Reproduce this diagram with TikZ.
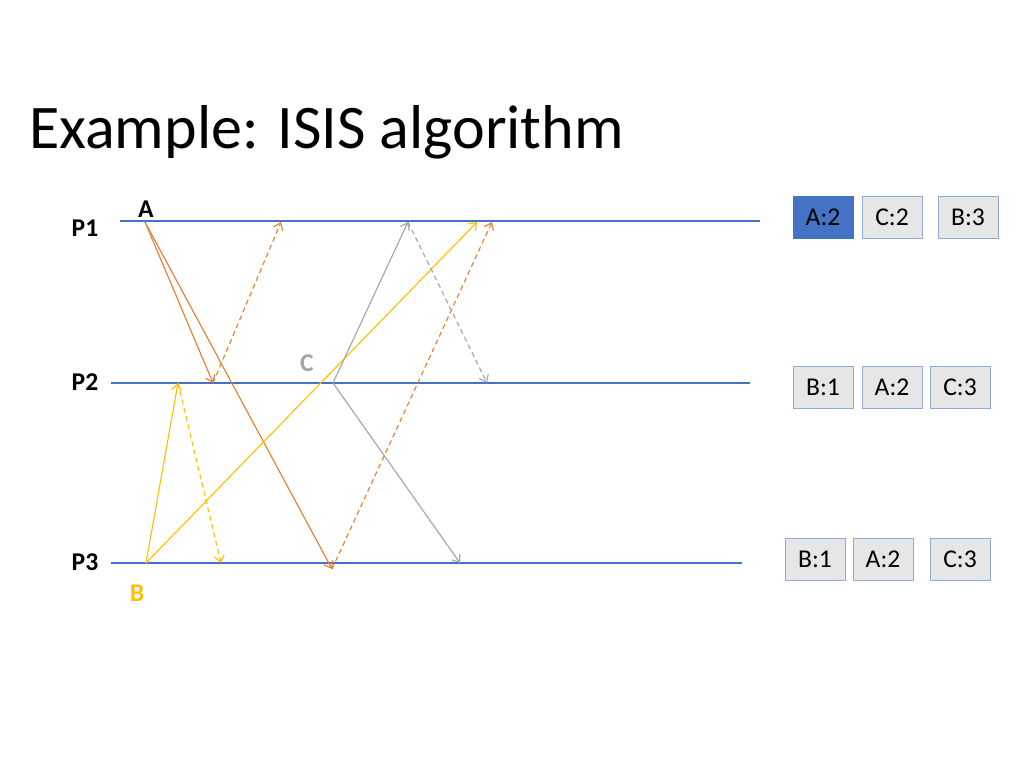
\documentclass[tikz,border=0pt]{standalone}
\usepackage{fontspec}
\setmainfont{Carlito}
\usetikzlibrary{arrows.meta}
\definecolor{procblue}{HTML}{4472C4}
\definecolor{msgorange}{HTML}{ED7D31}
\definecolor{msgyellow}{HTML}{FFC000}
\definecolor{msggray}{HTML}{A5A5A5}
\definecolor{boxfill}{HTML}{E7E6E6}
\definecolor{boxedge}{HTML}{8FAADC}

\begin{document}
\begin{tikzpicture}[x=0.703125pt,y=-0.703125pt,
  proc/.style={procblue,line width=1.5pt},
  msg/.style={line width=0.8pt,-{Straight Barb[length=4.5pt,width=7pt]}},
  ack/.style={msg,dash pattern=on 3.5pt off 2.5pt},
  plabel/.style={font=\fontsize{18}{21}\selectfont\bfseries},
  stamp/.style={draw=boxedge,fill=boxfill,line width=0.6pt,minimum width=42.2pt,minimum height=29.5pt,inner sep=0pt,font=\fontsize{18}{21}\selectfont}]
\fill[white] (0,0) rectangle (1024,768);
\useasboundingbox (0,0) rectangle (1024,768);

\node[anchor=base west,inner sep=0pt,font=\fontsize{43.6}{52}\selectfont] (title) at (29,149) {Example: ISIS algorithm};

% processes
\node[plabel] (p1) at (85,228) {P1};
\node[plabel] (p2) at (85,382) {P2};
\node[plabel] (p3) at (85,562) {P3};
\draw[proc] (120,221) coordinate (p1s) -- (760,221) coordinate (p1e);
\draw[proc] (111,383) coordinate (p2s) -- (750,383) coordinate (p2e);
\draw[proc] (111,563) coordinate (p3s) -- (742,563) coordinate (p3e);

% events
\coordinate (a) at (145,222);
\coordinate (a2) at (213,383);
\coordinate (a3) at (332,569);
\coordinate (pa2) at (281,222);
\coordinate (pa3) at (492,222);
\coordinate (b) at (146,563);
\coordinate (b2) at (178,383);
\coordinate (pb2) at (221,563);
\coordinate (b1) at (477,222);
\coordinate (c) at (333,383);
\coordinate (c1) at (408,222);
\coordinate (c3) at (460,563);
\coordinate (pc1) at (487,383);

\node[plabel] (la) at (146,209) {A};
\node[plabel,msggray] (lc) at (307,363) {C};
\node[plabel,msgyellow] (lb) at (137,593) {B};

% message A
\draw[msg,msgorange] (a) -- (a2);
\draw[msg,msgorange] (a) -- (a3);
\draw[ack,msgorange] (a2) -- (pa2);
\draw[ack,msgorange] (a3) -- (pa3);
% message B
\draw[msg,msgyellow] (b) -- (b2);
\draw[msg,msgyellow] (b) -- (b1);
\draw[ack,msgyellow] (b2) -- (pb2);
% message C
\draw[msg,msggray] (c) -- (c1);
\draw[msg,msggray] (c) -- (c3);
\draw[ack,msggray] (c1) -- (pc1);

% queues
\node[stamp,fill=procblue,draw=procblue] (q1a) at (823,217) {A:2};
\node[stamp] (q1c) at (892,217) {C:2};
\node[stamp] (q1b) at (968,217) {B:3};
\node[stamp] (q2b) at (823,387.5) {B:1};
\node[stamp] (q2a) at (892,387.5) {A:2};
\node[stamp] (q2c) at (960,387.5) {C:3};
\node[stamp] (q3b) at (815,559) {B:1};
\node[stamp] (q3a) at (883,559) {A:2};
\node[stamp] (q3c) at (960,559) {C:3};
\end{tikzpicture}
\end{document}
